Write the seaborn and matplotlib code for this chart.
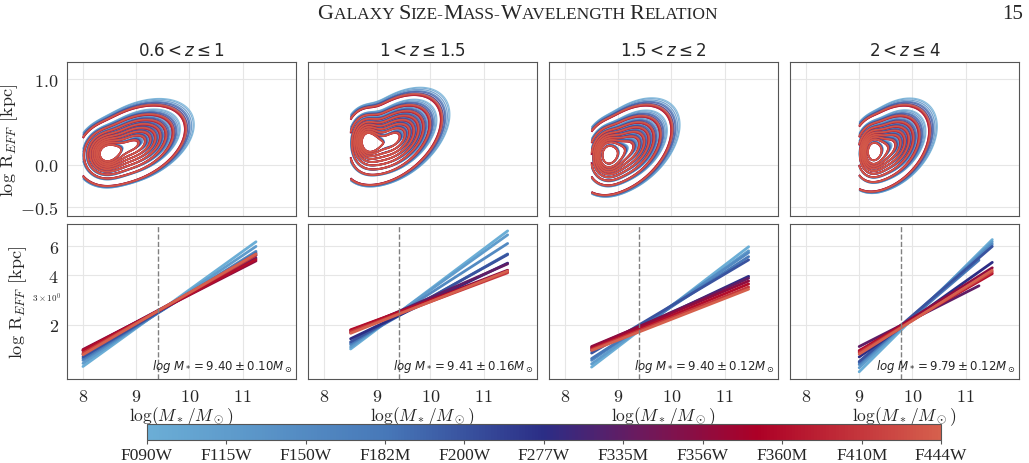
import numpy as np
import pandas as pd
import matplotlib
matplotlib.use("Agg")
import matplotlib.pyplot as plt
import seaborn as sns
from matplotlib.colors import LinearSegmentedColormap, Normalize
from matplotlib.offsetbox import TextArea, HPacker, AnchoredOffsetbox

# ---- data ----
filters = ["F090W", "F115W", "F150W", "F182M", "F200W", "F277W",
           "F335M", "F356W", "F360M", "F410M", "F444W"]
z_titles = [r"$0.6 < z \leq 1$", r"$1 < z \leq 1.5$",
            r"$1.5 < z \leq 2$", r"$2 < z \leq 4$"]

# mass completeness limit (start of the fits / KDE cut)
mass_min = [8.0, 8.5, 8.5, 9.0]
# pivot mass and error shown in each panel
pivot_mass = [9.40, 9.41, 9.40, 9.79]
pivot_err = [0.10, 0.16, 0.12, 0.12]

# size-mass fits: R_eff [kpc] at low-mass end and at high-mass end
fit_left = [
    [1.12, 1.17, 1.22, 1.25, 1.28, 1.33, 1.40, 1.42, 1.40, 1.35, 1.32],
    [1.43, 1.47, 1.52, 1.55, 1.58, 1.65, 1.80, 1.85, 1.87, 1.82, 1.78],
    [1.11, 1.16, 1.22, 1.25, 1.35, 1.40, 1.46, 1.48, 1.44, 1.42, 1.40],
    [1.04, 1.10, 1.15, 1.18, 1.20, 1.28, 1.48, 1.38, 1.40, 1.36, 1.33],
]
fit_right = [
    [6.40, 6.00, 5.60, 5.50, 5.40, 5.30, 5.10, 4.90, 5.00, 5.30, 5.40],
    [7.45, 7.05, 6.25, 5.40, 5.35, 4.75, 4.70, 4.30, 4.20, 4.15, 4.25],
    [5.97, 5.64, 5.50, 5.20, 4.97, 3.95, 3.85, 3.70, 3.55, 3.40, 3.30],
    [6.60, 6.40, 6.20, 4.95, 6.00, 4.80, 3.46, 4.45, 4.10, 4.20, 4.30],
]
fit_xmax = [
    [11.25] * 11,
    [11.45] * 11,
    [11.45] * 11,
    [11.5, 11.5, 11.5, 11.25, 11.5, 11.5, 11.25, 11.5, 11.5, 11.5, 11.5],
]

# KDE shape in the size-mass plane: a compact peak plus a tilted tail
peak_x = [8.40, 8.78, 8.78, 9.23]
peak_y = [0.13, 0.30, 0.13, 0.17]
peak_sx = [0.20, 0.17, 0.16, 0.14]
peak_sy = [0.14, 0.16, 0.15, 0.15]
tail_x = [8.95, 9.30, 9.15, 9.55]
tail_y = [0.24, 0.30, 0.18, 0.20]
tail_sx = [0.45, 0.42, 0.40, 0.36]
tail_sy = [0.21, 0.24, 0.24, 0.23]
tail_rho = [0.40, 0.45, 0.45, 0.40]
tail_w = [1.3, 1.3, 1.2, 1.3]
# filter-to-filter differences of the contours
spread = [1.08, 1.07, 1.05, 1.03, 1.02, 1.00, 0.98, 0.97, 0.97, 0.98, 0.99]
tail_shift = [0.05, 0.04, 0.03, 0.02, 0.01, 0.00, -0.01, -0.02, -0.02, -0.02, -0.01]

# ---- style ----
sns.set_style("whitegrid", {"grid.color": "#e6e6e6", "axes.edgecolor": "#555555"})
plt.rcParams["font.family"] = ["cmr10"]
plt.rcParams["mathtext.fontset"] = "cm"
plt.rcParams["axes.formatter.use_mathtext"] = True
plt.rcParams["axes.unicode_minus"] = True

cmap = LinearSegmentedColormap.from_list(
    "filt", [(0.0, "#6baed6"), (0.3, "#4778b8"), (0.5, "#2b2d86"),
             (0.62, "#6b1a5e"), (0.77, "#ad0026"), (1.0, "#d6604d")])
colors = [cmap(i / 10) for i in range(11)]


def gauss(X, Y, cx, cy, sx, sy, rho=0.0):
    u = (X - cx) / sx
    v = (Y - cy) / sy
    return np.exp(-(u * u - 2 * rho * u * v + v * v) / (2 * (1 - rho ** 2)))


fig = plt.figure(figsize=(10.29, 4.64), dpi=100)
lefts = [0.0651, 0.2993, 0.5335, 0.7677]
w = 0.2225
top_axes = [fig.add_axes([l, 0.5323, w, 0.3319]) for l in lefts]
bot_axes = [fig.add_axes([l, 0.181, w, 0.334]) for l in lefts]

for p in range(4):
    ax = top_axes[p]
    xs = np.linspace(mass_min[p], 11.0, 300)
    ys = np.linspace(-0.6, 1.2, 300)
    X, Y = np.meshgrid(xs, ys)
    for i in range(11):
        s = spread[i]
        d = gauss(X, Y, peak_x[p], peak_y[p], peak_sx[p] * s, peak_sy[p] * s)
        d += tail_w[p] * gauss(X, Y, tail_x[p] + tail_shift[i], tail_y[p] + tail_shift[i] / 2,
                               tail_sx[p] * s, tail_sy[p] * s, tail_rho[p])
        # iso-proportion levels, as seaborn's kdeplot does
        vals = np.sort(d.ravel())[::-1]
        cum = np.cumsum(vals) / vals.sum()
        iso = np.linspace(0.05, 1, 10)
        lev = np.unique(np.take(vals, np.searchsorted(cum, 1 - iso), mode="clip"))
        lw = 0.8 + 0.5 * (i / 10)
        ax.contour(X, Y, d, levels=lev[:-1], colors=[colors[i]],
                   linewidths=lw, alpha=0.8)
    ax.set_xlim(7.7, 12.0)
    ax.set_ylim(-0.6, 1.2)
    ax.set_xticks([8, 9, 10, 11])
    ax.set_yticks([-0.5, 0.0, 1.0])
    ax.tick_params(labelbottom=False, labelsize=13, length=3, color="#555555")
    if p > 0:
        ax.tick_params(labelleft=False)
    ax.set_title(z_titles[p], fontsize=12, family="DejaVu Sans",
                 math_fontfamily="dejavusans", pad=5)
    for sp in ax.spines.values():
        sp.set_color("#555555")
top_axes[0].set_ylabel(r"log R$_{EFF}$ [kpc]", fontsize=13)
top_axes[0].yaxis.set_label_coords(-0.205, 0.5)

for p in range(4):
    ax = bot_axes[p]
    rows = []
    for i in range(11):
        rows.append((mass_min[p], fit_left[p][i], filters[i]))
        rows.append((fit_xmax[p][i], fit_right[p][i], filters[i]))
    df = pd.DataFrame(rows, columns=["mass", "reff", "filter"])
    sns.lineplot(data=df, x="mass", y="reff", hue="filter", palette=colors,
                 legend=False, ax=ax, lw=2, sort=False)
    ax.set_yscale("log")
    ax.set_ylim(0.94, 8.2)
    ax.set_xlim(7.7, 12.0)
    ax.set_xticks([8, 9, 10, 11])
    ax.set_yticks([2, 4, 6], ["2", "4", "6"])
    ax.tick_params(axis="both", which="major", labelsize=13, length=3, color="#555555")
    ax.tick_params(axis="y", which="minor", labelsize=6.5, length=2, pad=2,
                   color="#555555")
    ax.axvline(pivot_mass[p], color="gray", ls="--", lw=1)
    ax.text(0.985, 0.035,
            r"$log\ M_* = %.2f \pm %.2f M_\odot$" % (pivot_mass[p], pivot_err[p]),
            transform=ax.transAxes, ha="right", va="bottom", fontsize=8.5,
            family="DejaVu Sans", math_fontfamily="dejavusans")
    ax.set_xlabel(r"$\log(M_*/M_\odot)$", fontsize=12.5)
    ax.xaxis.set_label_coords(0.5, -0.16)
    ax.set_ylabel("")
    if p > 0:
        ax.tick_params(axis="y", which="both", labelleft=False)
    for sp in ax.spines.values():
        sp.set_color("#555555")
bot_axes[0].set_ylabel(r"log R$_{EFF}$ [kpc]", fontsize=13)
bot_axes[0].yaxis.set_label_coords(-0.165, 0.5)

# colorbar
cax = fig.add_axes([0.1426, 0.0489, 0.772, 0.0345])
sm = plt.cm.ScalarMappable(cmap=cmap, norm=Normalize(0, 10))
cb = fig.colorbar(sm, cax=cax, orientation="horizontal", ticks=range(11))
cb.ax.set_xticklabels(filters, family="Liberation Serif", fontsize=12.5)
cb.outline.set_edgecolor("#555555")
cb.ax.tick_params(length=3, color="#555555", pad=2)

# running header of the paper page
parts = [("G", 16), ("ALAXY ", 12.5), ("S", 16), ("IZE-", 12.5), ("M", 16),
         ("ASS-", 12.5), ("W", 16), ("AVELENGTH ", 12.5), ("R", 16), ("ELATION", 12.5)]
boxes = [TextArea(t, textprops=dict(family="Liberation Serif", size=s)) for t, s in parts]
pack = HPacker(children=boxes, align="baseline", pad=0, sep=0)
ab = AnchoredOffsetbox(loc="center", child=pack, frameon=False,
                       bbox_to_anchor=(0.503, 0.968), bbox_transform=fig.transFigure)
fig.add_artist(ab)
fig.text(0.984, 0.968, "15", ha="center", va="center", fontsize=15,
         family="Liberation Serif")

fig.savefig("out.png", dpi=100)
